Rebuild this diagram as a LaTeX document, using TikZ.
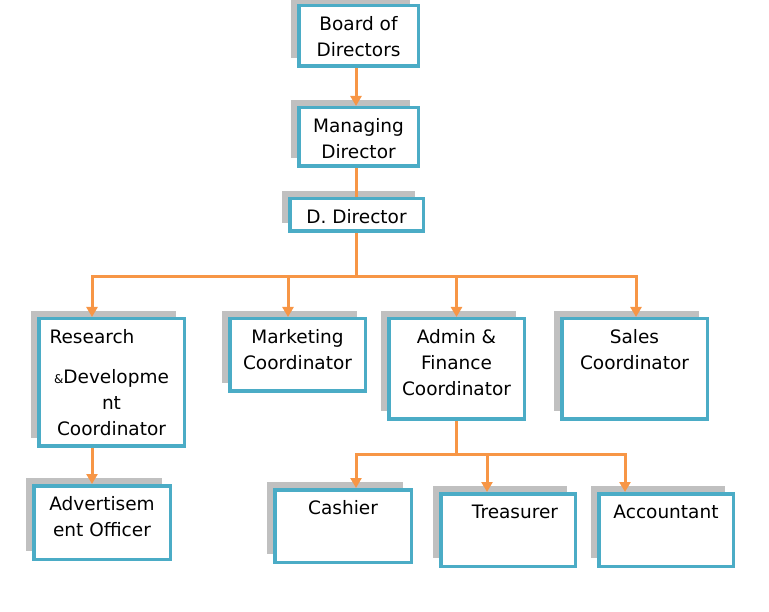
\documentclass[tikz,border=0pt]{standalone}
\usepackage{fontspec}
\setmainfont{DejaVu Sans}
\usetikzlibrary{arrows.meta,shadows}
\definecolor{postblue}{HTML}{4BACC6}
\definecolor{linkorange}{HTML}{F79646}
\definecolor{shadowgray}{HTML}{C0C0C0}
\newcommand{\chartfont}{\fontsize{18.5}{26}\selectfont}

\begin{document}
\begin{tikzpicture}[x=1pt, y=-1pt,
    post/.style={draw=postblue, line width=3.5pt, fill=white, inner sep=0pt,
      drop shadow={shadow xshift=-8pt, shadow yshift=8pt, fill=shadowgray, opacity=1}},
    txt/.style={anchor=north, yshift=-8pt, align=center, inner sep=0pt, font=\chartfont},
    link/.style={draw=linkorange, line width=3pt},
    arrow/.style={link, -{Triangle[length=10pt, width=11pt]}}]

  \useasboundingbox (0, 0) rectangle (769, 612);

  % top of the chart
  \node[post, minimum width=119.5pt, minimum height=60.5pt, label={[txt]north:{\strut Board of\\Directors}}] (board) at (358.5, 36) {};
  \node[post, minimum width=119.5pt, minimum height=58.5pt, label={[txt]north:{\strut Managing\\Director}}] (managing) at (358.5, 137) {};
  \node[post, minimum width=133.5pt, minimum height=32.5pt, label={[txt]north:{\strut D. Director}}] (ddirector) at (356.5, 215) {};

  % coordinators
  \node[post, minimum width=145.5pt, minimum height=127.5pt, label={[txt]north:{\strut Research\hspace*{39pt}\\[14pt]{\fontsize{12}{12}\selectfont\&}Developme\\nt\\Coordinator}}] (research) at (111.5, 382.5) {};
  \node[post, minimum width=135.5pt, minimum height=72.5pt, label={[txt]north:{\strut Marketing\\Coordinator}}] (marketing) at (297.5, 355) {};
  \node[post, minimum width=135.5pt, minimum height=100.5pt, label={[txt]north:{\strut Admin \&\\Finance\\Coordinator}}] (admin) at (456.5, 369) {};
  \node[post, minimum width=145.5pt, minimum height=100.5pt, label={[txt]north:{\strut Sales\\Coordinator}}] (sales) at (634.5, 369) {};

  % bottom row
  \node[post, minimum width=136.5pt, minimum height=73.5pt, label={[txt]north:{\strut Advertisem\\ent Officer}}] (advert) at (102, 522.5) {};
  \node[post, minimum width=136.5pt, minimum height=72.5pt, label={[txt]north:{\strut Cashier}}] (cashier) at (343, 526) {};
  \node[post, minimum width=134.5pt, minimum height=72.5pt, label={[txt, xshift=7pt]north:{\strut Treasurer}}] (treasurer) at (508, 530) {};
  \node[post, minimum width=134.5pt, minimum height=72.5pt, label={[txt]north:{\strut Accountant}}] (accountant) at (666, 530) {};

  \coordinate (hub) at (356.5, 277);
  \coordinate (adminhub) at (456.5, 454);

  \draw[arrow] ([xshift=-2.5pt]board.south) -- ([xshift=-2.5pt]managing.north);
  \draw[link] ([xshift=-2pt]managing.south) -- (ddirector.north);
  \draw[link] (ddirector.south) -- (hub);
  \draw[arrow] (hub) -| ([xshift=-19.5pt]research.north);
  \draw[arrow] (hub) -| ([xshift=-9.5pt]marketing.north);
  \draw[arrow] (hub) -| (admin.north);
  \draw[arrow] (hub) -| ([xshift=1.5pt]sales.north);
  \draw[arrow] ([xshift=-19.5pt]research.south) -- ([xshift=-19.5pt]research.south |- advert.north);

  \draw[link] (admin.south) -- (adminhub);
  \draw[arrow] (adminhub) -| ([xshift=13pt]cashier.north);
  \draw[arrow] (adminhub) -| ([xshift=-21pt]treasurer.north);
  \draw[arrow] (adminhub) -| ([xshift=-41pt]accountant.north);

\end{tikzpicture}
\end{document}
